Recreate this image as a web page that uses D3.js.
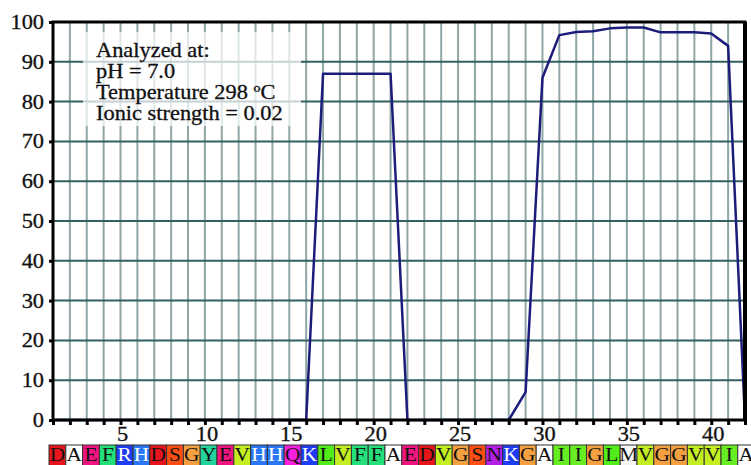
<!DOCTYPE html>
<html>
<head>
<meta charset="utf-8">
<script src="https://cdn.jsdelivr.net/npm/d3@7"></script>
<style>
  body { margin: 0; background: #fff; }
  svg text { font-family: "Liberation Serif", "DejaVu Serif", serif; }
</style>
</head>
<body>
<svg id="chart" width="751" height="465"></svg>
<script>
// sequence (residues 1..42)
var sequence = ["D","A","E","F","R","H","D","S","G","Y","E","V","H","H","Q","K","L","V","F","F",
  "A","E","D","V","G","S","N","K","G","A","I","I","G","L","M","V","G","G","V","V","I","A"];
// aggregation propensity (%) per residue
var propensity = [0,0,0,0,0,0,0,0,0,0,0,0,0,0,0,0,87,87,87,87,
  87,0,0,0,0,0,0,0,7,86,96.7,97.5,97.7,98.4,98.6,98.6,97.4,97.4,97.4,97.1,94,0];
var yTicks = [0,10,20,30,40,50,60,70,80,90,100];
var xTicks = [5,10,15,20,25,30,35,40];
var noteLines = ["Analyzed at:", "pH = 7.0", "Temperature 298 \u00BAC", "Ionic strength = 0.02"];

// colour per amino acid
var aaColor = {
  D: "#e8141c", E: "#f0147e", A: "#ffffff", F: "#24e07a", R: "#1e3cf5", H: "#2a78f5",
  S: "#ff4e14", G: "#f5a040", Y: "#22d49c", V: "#c4ee22", Q: "#f81ee0", K: "#1e3cf5",
  L: "#52ec1a", N: "#b41ee6", I: "#66ee22", M: "#f4f4f4"
};
var whiteText = { R: true, H: true, K: true };

(function() {
  var svg = d3.select("#chart");
  var pLeft = 53, pRight = 745, pTop = 22, pBottom = 420;
  var stretch = 1.12; // le texte de l'original est un peu élargi

  var x = d3.scaleLinear().domain([1, 42]).range([pLeft, pRight]);
  var y = d3.scaleLinear().domain([0, 100]).range([pBottom, pTop]);
  var boxX = d3.scaleBand().domain(d3.range(1, 43)).range([49, 49 + 42 * 16.8]);

  var residues = d3.range(1, 43);

  function place(px, py) {
    return "translate(" + px + "," + py + ") scale(" + stretch + ",1)";
  }

  // vertical grid
  svg.append("g").selectAll("line")
    .data(residues.slice(1, 41))
    .join("line")
    .attr("x1", d => x(d)).attr("x2", d => x(d))
    .attr("y1", pTop).attr("y2", pBottom)
    .attr("stroke", "#8ea6a6").attr("stroke-width", 2);

  // horizontal grid
  svg.append("g").selectAll("line")
    .data(yTicks.slice(1, 10))
    .join("line")
    .attr("x1", pLeft).attr("x2", pRight)
    .attr("y1", d => y(d)).attr("y2", d => y(d))
    .attr("stroke", "#335f60").attr("stroke-width", 2);

  // note box
  svg.append("rect")
    .attr("x", 83).attr("y", 32).attr("width", 218).attr("height", 94)
    .attr("fill", "#fff").attr("opacity", 0.72);

  svg.append("g").selectAll("text")
    .data(noteLines)
    .join("text")
    .attr("transform", (d, i) => place(96, 57 + i * 21))
    .attr("font-size", 20).attr("fill", "#111")
    .attr("stroke", "#111").attr("stroke-width", 0.3)
    .text(d => d);

  // line
  var line = d3.line()
    .x((d, i) => x(i + 1))
    .y(d => y(d));

  svg.append("path")
    .datum(propensity)
    .attr("d", line)
    .attr("fill", "none")
    .attr("stroke", "#1c1c7a")
    .attr("stroke-width", 2.5)
    .attr("stroke-linejoin", "round");

  // frame
  svg.append("rect")
    .attr("x", pLeft).attr("y", pTop).attr("width", pRight - pLeft).attr("height", pBottom - pTop)
    .attr("fill", "none").attr("stroke", "#000").attr("stroke-width", 3);
  svg.append("line")
    .attr("x1", pRight).attr("x2", pRight).attr("y1", pTop).attr("y2", pBottom)
    .attr("stroke", "#000").attr("stroke-width", 4);

  // y axis
  var yAxis = svg.append("g")
    .attr("transform", "translate(" + pLeft + ",0)")
    .call(d3.axisLeft(y).tickValues(yTicks).tickSize(4).tickPadding(4));
  yAxis.select(".domain").remove();
  yAxis.selectAll("line").attr("stroke", "#000").attr("stroke-width", 3);
  yAxis.selectAll("text").attr("font-size", 20).attr("fill", "#111")
    .attr("stroke", "#111").attr("stroke-width", 0.3)
    .attr("transform", "scale(" + stretch + ",1)")
    .style("font-family", "Liberation Serif");

  // x axis
  var xAxis = svg.append("g")
    .attr("transform", "translate(0," + pBottom + ")")
    .call(d3.axisBottom(x).tickValues(residues).tickSize(5).tickFormat(""));
  xAxis.select(".domain").remove();
  xAxis.selectAll("line").attr("stroke", "#000").attr("stroke-width", 3);

  svg.append("g").selectAll("text")
    .data(xTicks)
    .join("text")
    .attr("transform", d => place(x(d) + 2, 441))
    .attr("text-anchor", "middle")
    .attr("font-size", 20).attr("fill", "#111")
    .attr("stroke", "#111").attr("stroke-width", 0.3)
    .text(d => d);

  // residue boxes
  var boxes = svg.append("g").selectAll("g")
    .data(sequence)
    .join("g")
    .attr("transform", (d, i) => "translate(" + boxX(i + 1) + ",445)");

  boxes.append("rect")
    .attr("width", boxX.bandwidth()).attr("height", 24)
    .attr("fill", d => aaColor[d])
    .attr("stroke", "#333").attr("stroke-width", 1);

  boxes.append("text")
    .attr("transform", place(boxX.bandwidth() / 2, 16))
    .attr("text-anchor", "middle")
    .attr("font-size", 19)
    .attr("fill", d => whiteText[d] ? "#fff" : "#111")
    .text(d => d);
})();
</script>
</body>
</html>
